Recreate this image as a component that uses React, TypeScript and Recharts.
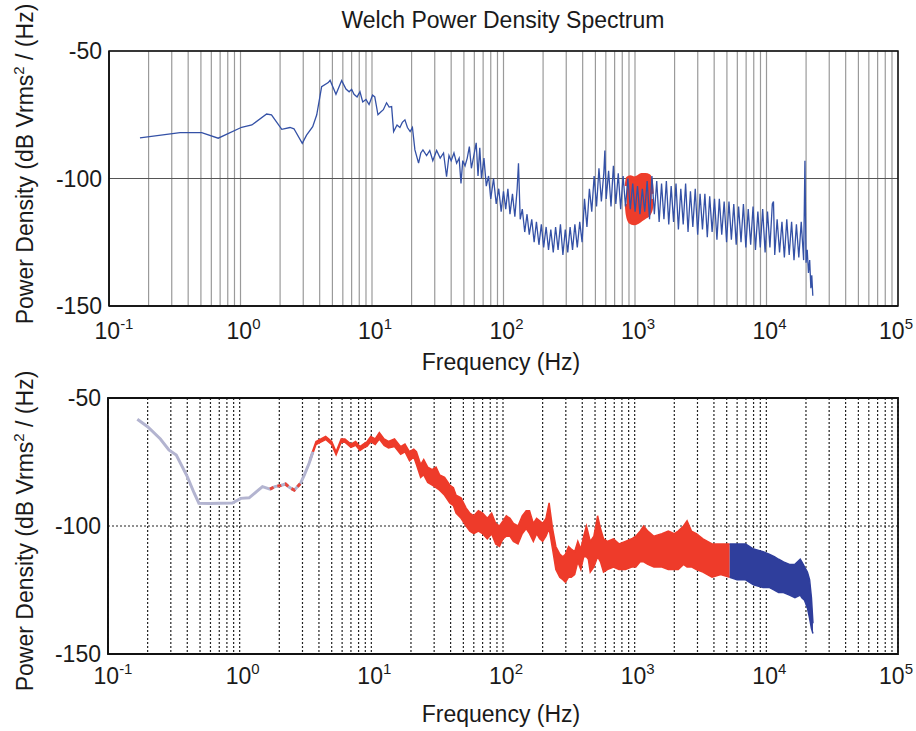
import React from 'react';
import {
  ComposedChart,
  Line,
  Area,
  XAxis,
  YAxis,
  CartesianGrid,
  ReferenceArea,
} from 'recharts';

const FONT = '"Liberation Sans", Arial, Helvetica, sans-serif';

// log axis: 1..9 times every decade from 0.1 Hz to 100 kHz
const DECADES = [0.1, 1, 10, 100, 1000, 10000];
const X_TICKS = [...DECADES.flatMap((d) => [1, 2, 3, 4, 5, 6, 7, 8, 9].map((m) => d * m)), 100000];
const Y_TICKS = [-150, -100, -50];

// ---- top panel: Welch PSD (smooth low-frequency part)
const topLowFreq = [
  0.172, 0.347, 0.507, 0.677, 1.02, 1.22, 1.58, 1.72, 2.06, 2.38,
  2.55, 2.95, 3.18, 3.54, 3.8, 4.14, 4.65, 4.8, 5.32, 5.88,
  6.34, 6.7, 7.0, 7.3, 7.7, 8.1, 8.5, 9.0, 9.5, 10.1,
  10.5, 11.1, 11.6, 12.2, 12.9, 13.5, 14.1, 14.6, 15.5, 16.3,
  17.0, 17.8, 18.6, 19.5, 20.3, 21.2, 22.6, 23.5, 24.4, 26,
  27.5, 29, 31, 33, 35, 36.9, 38.5, 40, 42, 44,
  46, 47.5, 49, 51, 53, 55, 57, 60,
];
const topLowDb = [
  -84.1, -82, -82, -84.2, -79.9, -79, -74.7, -75, -80.7, -80,
  -80.5, -86.2, -83, -79.7, -75, -64, -62.4, -61.5, -67, -61.6,
  -64.9, -66, -65, -67, -68, -66, -70, -69, -71, -67.3,
  -68, -75, -74, -73, -70.3, -72, -71.8, -81.6, -79, -80,
  -78, -77, -80, -81.6, -80, -88.8, -94, -90, -88.8, -91,
  -89, -93, -89, -92, -90, -99.3, -91, -93, -90, -94,
  -92, -101.9, -93, -95, -92, -87.5, -96, -90,
];

// top panel: noisy part above ~60 Hz
const topNoiseFreq = [
  62, 64, 66, 68, 71, 74, 77, 80, 84, 88,
  92, 96, 100, 104, 108, 112, 117, 122, 127, 130,
  134, 139, 145, 151, 157, 164, 171, 178, 186, 194,
  202, 211, 220, 229, 239, 249, 260, 271, 283, 295,
  308, 321, 335, 349, 364, 380, 396, 413, 431, 450,
  469, 489, 510, 532, 555, 579, 590, 604, 630, 657,
  685, 715, 746, 778, 812, 847, 883, 921, 961, 1002,
  1045, 1090, 1137, 1186, 1237, 1290, 1345, 1403, 1463, 1526,
  1592, 1660, 1732, 1806, 1884, 1965, 2050, 2138, 2230, 2326,
  2426, 2531, 2640, 2753, 2872, 2996, 3125, 3259, 3400, 3546,
  3699, 3858, 4024, 4198, 4378, 4567, 4764, 4969, 5183, 5406,
  5639, 5882, 6135, 6400, 6675, 6963, 7263, 7576, 7902, 8242,
  8597, 8968, 9354, 9757, 10177, 10616, 11073, 11300, 11550, 12048,
  12567, 13108, 13673, 14262, 14877, 15518, 16186, 16884, 17611, 18370,
  19161, 19600, 19990, 20400, 20850, 21300, 21750, 22100, 22500,
];
const topNoiseDb = [
  -86, -99, -88, -100, -92, -103, -99, -108, -100, -110,
  -104, -113, -105, -112, -104, -114, -106, -115, -104, -94,
  -116, -112, -121, -114, -122, -116, -125, -117, -126, -118,
  -127, -119, -128, -120, -129, -119, -128, -118, -130, -120,
  -129, -119, -128, -118, -127, -117, -125, -108, -119, -104,
  -113, -99, -111, -96, -109, -98, -89, -108, -97, -111,
  -95, -110, -98, -112, -99, -111, -100, -112, -102, -113,
  -103, -114, -104, -113, -101, -116, -99, -114, -101, -117,
  -102, -116, -101, -118, -103, -117, -102, -120, -104, -118,
  -102, -121, -105, -119, -104, -122, -106, -120, -106, -123,
  -107, -121, -108, -124, -108, -122, -109, -125, -109, -124,
  -110, -126, -111, -125, -110, -127, -112, -126, -111, -128,
  -113, -127, -112, -129, -113, -127, -110, -109, -130, -116,
  -129, -117, -131, -116, -130, -117, -132, -118, -131, -117,
  -132, -93, -133, -128, -137, -132, -143, -138, -146,
];

// top panel: red marker blob around 1 kHz
const blobFreq = [865, 880, 920, 980, 1050, 1120, 1200, 1270, 1320, 1340];
const blobHi = [-103, -100, -99.5, -100, -99.5, -98.6, -98.6, -99, -101, -106];
const blobLo = [-110, -114, -117, -117.5, -117, -116, -115, -114, -112, -108];

// ---- bottom panel
const grayFreq = [
  0.167, 0.2, 0.25, 0.29, 0.33, 0.4, 0.45, 0.49, 0.6, 0.7,
  0.88, 1.02, 1.18, 1.35, 1.49, 1.7, 1.85, 2.05, 2.23, 2.4,
  2.6, 2.9, 3.1, 3.37, 3.6,
];
const grayDb = [
  -58.3, -61.2, -66, -70.3, -72.3, -80.7, -87, -91.1, -91.2, -91.1,
  -91, -89.2, -89, -86.5, -84.6, -85.6, -84.6, -84.2, -83.6, -85,
  -86, -83.3, -80, -75.5, -71,
];

const redFreq = [
  3.4, 3.8, 4.5, 5.0, 5.4, 5.9, 6.3, 7.0, 7.6, 8.2,
  8.7, 9.3, 9.9, 10.7, 11.5, 12.5, 13.5, 15, 16.7, 18,
  19.5, 21, 22, 23.7, 25, 26.8, 29, 31, 33, 36,
  39.4, 42, 44, 48, 52.5, 56, 60, 65, 70, 76,
  82, 88, 94, 100, 106, 113, 120, 130, 140, 150,
  159, 170, 180, 190, 200, 212, 224, 238, 252, 270,
  285, 298, 315, 330, 350, 370, 390, 410, 430, 445,
  460, 490, 523, 550, 580, 620, 690, 760, 850, 950,
  1020, 1100, 1170, 1260, 1400, 1610, 1800, 2000, 2140, 2350,
  2500, 2700, 2940, 3300, 3870, 4500, 5270,
];
const redHi = [
  -74, -67, -65, -67, -71, -66, -66, -68, -67, -69,
  -68, -67, -65, -66, -63.5, -66, -67, -66, -69, -68,
  -71, -70, -71, -76, -74, -77, -78, -77, -80, -81,
  -84, -85, -88, -89, -93, -95, -96, -94, -95, -97,
  -95, -99, -100, -98, -96, -97, -99, -100, -96, -94,
  -94, -99, -97, -98, -99, -97, -91, -101, -108, -111,
  -112, -111, -108, -109, -110, -106, -109, -104, -100, -103,
  -106, -104, -96, -101, -105, -106, -105, -107, -106, -105,
  -104, -102, -100, -102, -104, -103, -102, -103, -102, -100,
  -98, -102, -103, -105, -107, -107, -107,
];
const redLo = [
  -75.2, -68.2, -66.2, -68.2, -72.2, -67.3, -67.3, -69.3, -68.5, -70.5,
  -69.6, -68.8, -67, -68.2, -66, -68.5, -69.5, -69, -72, -71,
  -74.5, -73, -76, -81, -80, -83, -84, -85, -86, -88,
  -91, -92, -95, -97, -100, -102, -103, -102, -103, -105,
  -103, -107, -108, -105, -104, -104, -106, -107, -103, -101,
  -103, -106, -103, -105, -106, -104, -101, -109, -117, -120,
  -121, -122, -120, -120, -119, -114, -117, -112, -112, -113,
  -118, -116, -112, -114, -118, -117, -116, -117, -117, -116,
  -116, -114, -114, -115, -116, -116, -117, -117, -117, -115,
  -116, -116, -117, -118, -120, -119, -120,
];

const blueFreq = [
  5270, 6000, 6960, 8000, 9440, 10500, 11500, 12400, 13500, 15000,
  16500, 18100, 18600, 19500, 20500, 21300, 22000, 22600,
];
const blueHi = [
  -107, -107, -107, -109, -110, -111, -112, -113, -114, -115,
  -115, -113, -114, -116, -118, -121, -128, -138,
];
const blueLo = [
  -120, -121, -121, -123, -124, -124, -125, -126, -126, -127,
  -128, -127, -128, -129, -132, -136, -140, -142,
];

const topLine = [...topLowFreq, ...topNoiseFreq].map((f, i) => ({
  f,
  v: [...topLowDb, ...topNoiseDb][i],
}));
const blobData = blobFreq.map((f, i) => ({ f, r: [blobLo[i], blobHi[i]] }));
const grayData = grayFreq.map((f, i) => ({ f, v: grayDb[i] }));
const redDashData = grayData.filter((d) => d.f >= 1.6 && d.f <= 3.0);
const redData = redFreq.map((f, i) => ({ f, r: [redLo[i], redHi[i]] }));
const blueData = blueFreq.map((f, i) => ({ f, r: [blueLo[i], blueHi[i]] }));

const makeTick = (offset: number) => (props: any) => {
  const { x, y, payload } = props;
  const lg = Math.log10(payload.value);
  const exp = Math.round(lg);
  if (Math.abs(lg - exp) > 1e-6) return <g />;
  // the last label would run past the page edge, keep it inside
  const dx = exp === 5 ? -2 : exp === -1 ? 5 : 3;
  return (
    <text x={x + dx} y={y + offset} textAnchor="middle" fontFamily={FONT} fontSize={23} fill="#1a1a1a">
      10
      <tspan dy={-10} fontSize={15}>
        {exp}
      </tspan>
    </text>
  );
};

const yTickStyle = { fontSize: 23, fill: '#1a1a1a', fontFamily: FONT };

const W = 916;

const App = () => {
  return (
    <div style={{ position: 'absolute', left: 0, top: 0, width: W, height: 731, background: '#fff' }}>
      <div style={{ position: 'absolute', left: 0, top: 0 }}>
        <ComposedChart width={W} height={370} margin={{ top: 51, right: 18, bottom: 24, left: 9 }}>
          <CartesianGrid horizontal={false} stroke="#9a9a9a" strokeWidth={1.2} />
          <CartesianGrid vertical={false} stroke="#555" strokeWidth={1} />
          <XAxis
            dataKey="f"
            type="number"
            scale="log"
            domain={[0.1, 100000]}
            ticks={X_TICKS}
            interval={0}
            allowDataOverflow
            height={40}
            tickSize={0}
            tickMargin={0}
            axisLine={{ stroke: '#111', strokeWidth: 1.5 }}
            tick={makeTick(33)}
          />
          <YAxis
            type="number"
            domain={[-150, -50]}
            ticks={Y_TICKS}
            width={100}
            tickSize={0}
            tickMargin={7}
            axisLine={{ stroke: '#111', strokeWidth: 1.5 }}
            tick={yTickStyle}
          />
          <ReferenceArea x1={0.1} x2={100000} y1={-150} y2={-50} fill="none" stroke="#111" strokeWidth={1.5} />
          <Line
            data={topLine}
            dataKey="v"
            type="linear"
            stroke="#3451a6"
            strokeWidth={1.3}
            dot={false}
            isAnimationActive={false}
          />
          <Area
            data={blobData}
            dataKey="r"
            type="monotone"
            fill="#ee3d2b"
            fillOpacity={1}
            stroke="#ee3d2b"
            strokeWidth={4}
            strokeLinejoin="round"
            dot={false}
            isAnimationActive={false}
          />
        </ComposedChart>
      </div>

      <div style={{ position: 'absolute', left: 0, top: 370 }}>
        <ComposedChart width={W} height={361} margin={{ top: 28, right: 18, bottom: 37, left: 8 }}>
          <CartesianGrid stroke="#222" strokeDasharray="2 2" strokeWidth={1.2} />
          <XAxis
            dataKey="f"
            type="number"
            scale="log"
            domain={[0.1, 100000]}
            ticks={X_TICKS}
            interval={0}
            allowDataOverflow
            height={40}
            tickSize={0}
            tickMargin={0}
            axisLine={{ stroke: '#111', strokeWidth: 1.8 }}
            tick={makeTick(30)}
          />
          <YAxis
            type="number"
            domain={[-150, -50]}
            ticks={Y_TICKS}
            width={100}
            tickSize={0}
            tickMargin={7}
            axisLine={{ stroke: '#111', strokeWidth: 1.8 }}
            tick={yTickStyle}
          />
          <ReferenceArea x1={0.1} x2={100000} y1={-150} y2={-50} fill="none" stroke="#111" strokeWidth={1.8} />
          <Line
            data={grayData}
            dataKey="v"
            type="linear"
            stroke="#b3b4d0"
            strokeWidth={3}
            dot={false}
            isAnimationActive={false}
          />
          <Line
            data={redDashData}
            dataKey="v"
            type="linear"
            stroke="#e8463a"
            strokeWidth={3}
            strokeDasharray="4 4"
            dot={false}
            isAnimationActive={false}
          />
          <Area
            data={redData}
            dataKey="r"
            type="linear"
            fill="#ee3b2a"
            fillOpacity={1}
            stroke="#ee3b2a"
            strokeWidth={1.5}
            dot={false}
            isAnimationActive={false}
          />
          <Area
            data={blueData}
            dataKey="r"
            type="linear"
            fill="#2f3e9c"
            fillOpacity={1}
            stroke="#2f3e9c"
            strokeWidth={1.5}
            dot={false}
            isAnimationActive={false}
          />
        </ComposedChart>
      </div>

      <svg
        width={W}
        height={731}
        style={{ position: 'absolute', left: 0, top: 0, pointerEvents: 'none' }}
        fontFamily={FONT}
        fill="#1a1a1a"
      >
        <text x={503} y={28} textAnchor="middle" fontSize={23}>
          Welch Power Density Spectrum
        </text>
        <text x={501} y={370} textAnchor="middle" fontSize={23}>
          Frequency (Hz)
        </text>
        <text x={501} y={722} textAnchor="middle" fontSize={23}>
          Frequency (Hz)
        </text>
        <text transform="translate(33,164) rotate(-90)" textAnchor="middle" fontSize={23}>
          Power Density (dB Vrms
          <tspan dy={-9} fontSize={15}>
            2
          </tspan>
          <tspan dy={9}> / (Hz)</tspan>
        </text>
        <text transform="translate(33,531) rotate(-90)" textAnchor="middle" fontSize={23}>
          Power Density (dB Vrms
          <tspan dy={-9} fontSize={15}>
            2
          </tspan>
          <tspan dy={9}> / (Hz)</tspan>
        </text>
      </svg>
    </div>
  );
};

export default App;
